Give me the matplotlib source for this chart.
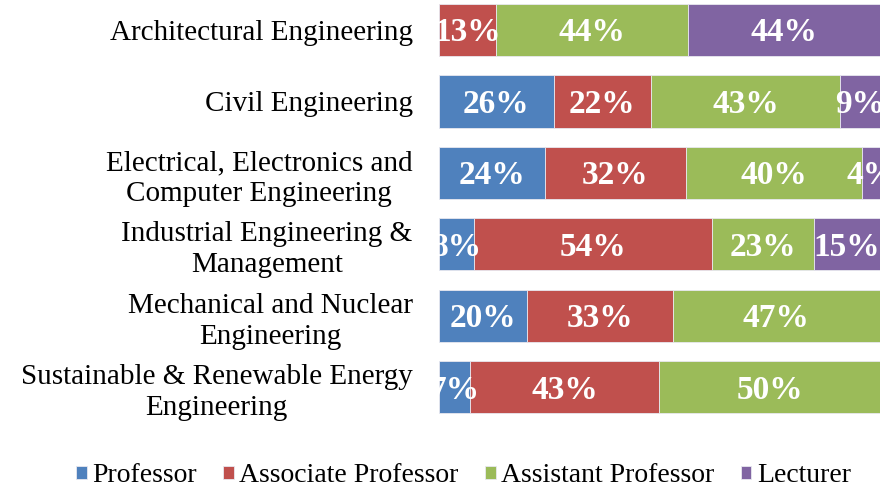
import matplotlib.pyplot as plt
import numpy as np

departments = [
    "Architectural Engineering",
    "Civil Engineering",
    "Electrical, Electronics and\nComputer Engineering",
    "Industrial Engineering &\nManagement",
    "Mechanical and Nuclear\nEngineering",
    "Sustainable & Renewable Energy\nEngineering",
]
ranks = ["Professor", "Associate Professor", "Assistant Professor", "Lecturer"]
professor = [0, 26, 24, 8, 20, 7]
associate = [13, 22, 32, 54, 33, 43]
assistant = [44, 43, 40, 23, 47, 50]
lecturer = [44, 9, 4, 15, 0, 0]
colors = ["#4F81BD", "#C0504D", "#9BBB59", "#8064A2"]

plt.rcParams["font.family"] = ["Liberation Serif", "DejaVu Serif"]

series = np.array([professor, associate, assistant, lecturer], dtype=float)
totals = series.sum(axis=0)
shares = series / totals

fig = plt.figure(figsize=(8.95, 4.92), dpi=100)
ax = fig.add_axes([439 / 895, 1 - 423 / 492, 441 / 895, 423 / 492])

y = np.arange(len(departments))
left = np.zeros(len(departments))
for k, (name, col) in enumerate(zip(ranks, colors)):
    bars = ax.barh(y, shares[k], left=left, height=0.73, color=col,
                   edgecolor="#E8E8F0", linewidth=0.6, label=name)
    for i, b in enumerate(bars):
        if series[k][i] > 0:
            ax.text(left[i] + shares[k][i] / 2, y[i] + 0.04,
                    f"{int(series[k][i])}%", ha="center", va="center",
                    color="white", fontsize=24, fontweight="bold",
                    clip_on=True)
    left += shares[k]

ax.set_xlim(0, 1)
ax.set_ylim(5.5, -0.42)
ax.set_yticks(y)
ax.set_yticklabels(departments, fontsize=21, multialignment="center",
                   linespacing=1.25)
ax.tick_params(axis="y", length=0, pad=19)
ax.set_xticks([])
for s in ax.spines.values():
    s.set_visible(False)

handles, labels = ax.get_legend_handles_labels()
fig.legend(handles, labels, loc="center", bbox_to_anchor=(0.518, 1 - 476 / 492),
           ncol=4, frameon=False, fontsize=20, handlelength=0.38,
           handleheight=0.38, handletextpad=0.2, columnspacing=0.95)

fig.savefig("out.png", dpi=100)
